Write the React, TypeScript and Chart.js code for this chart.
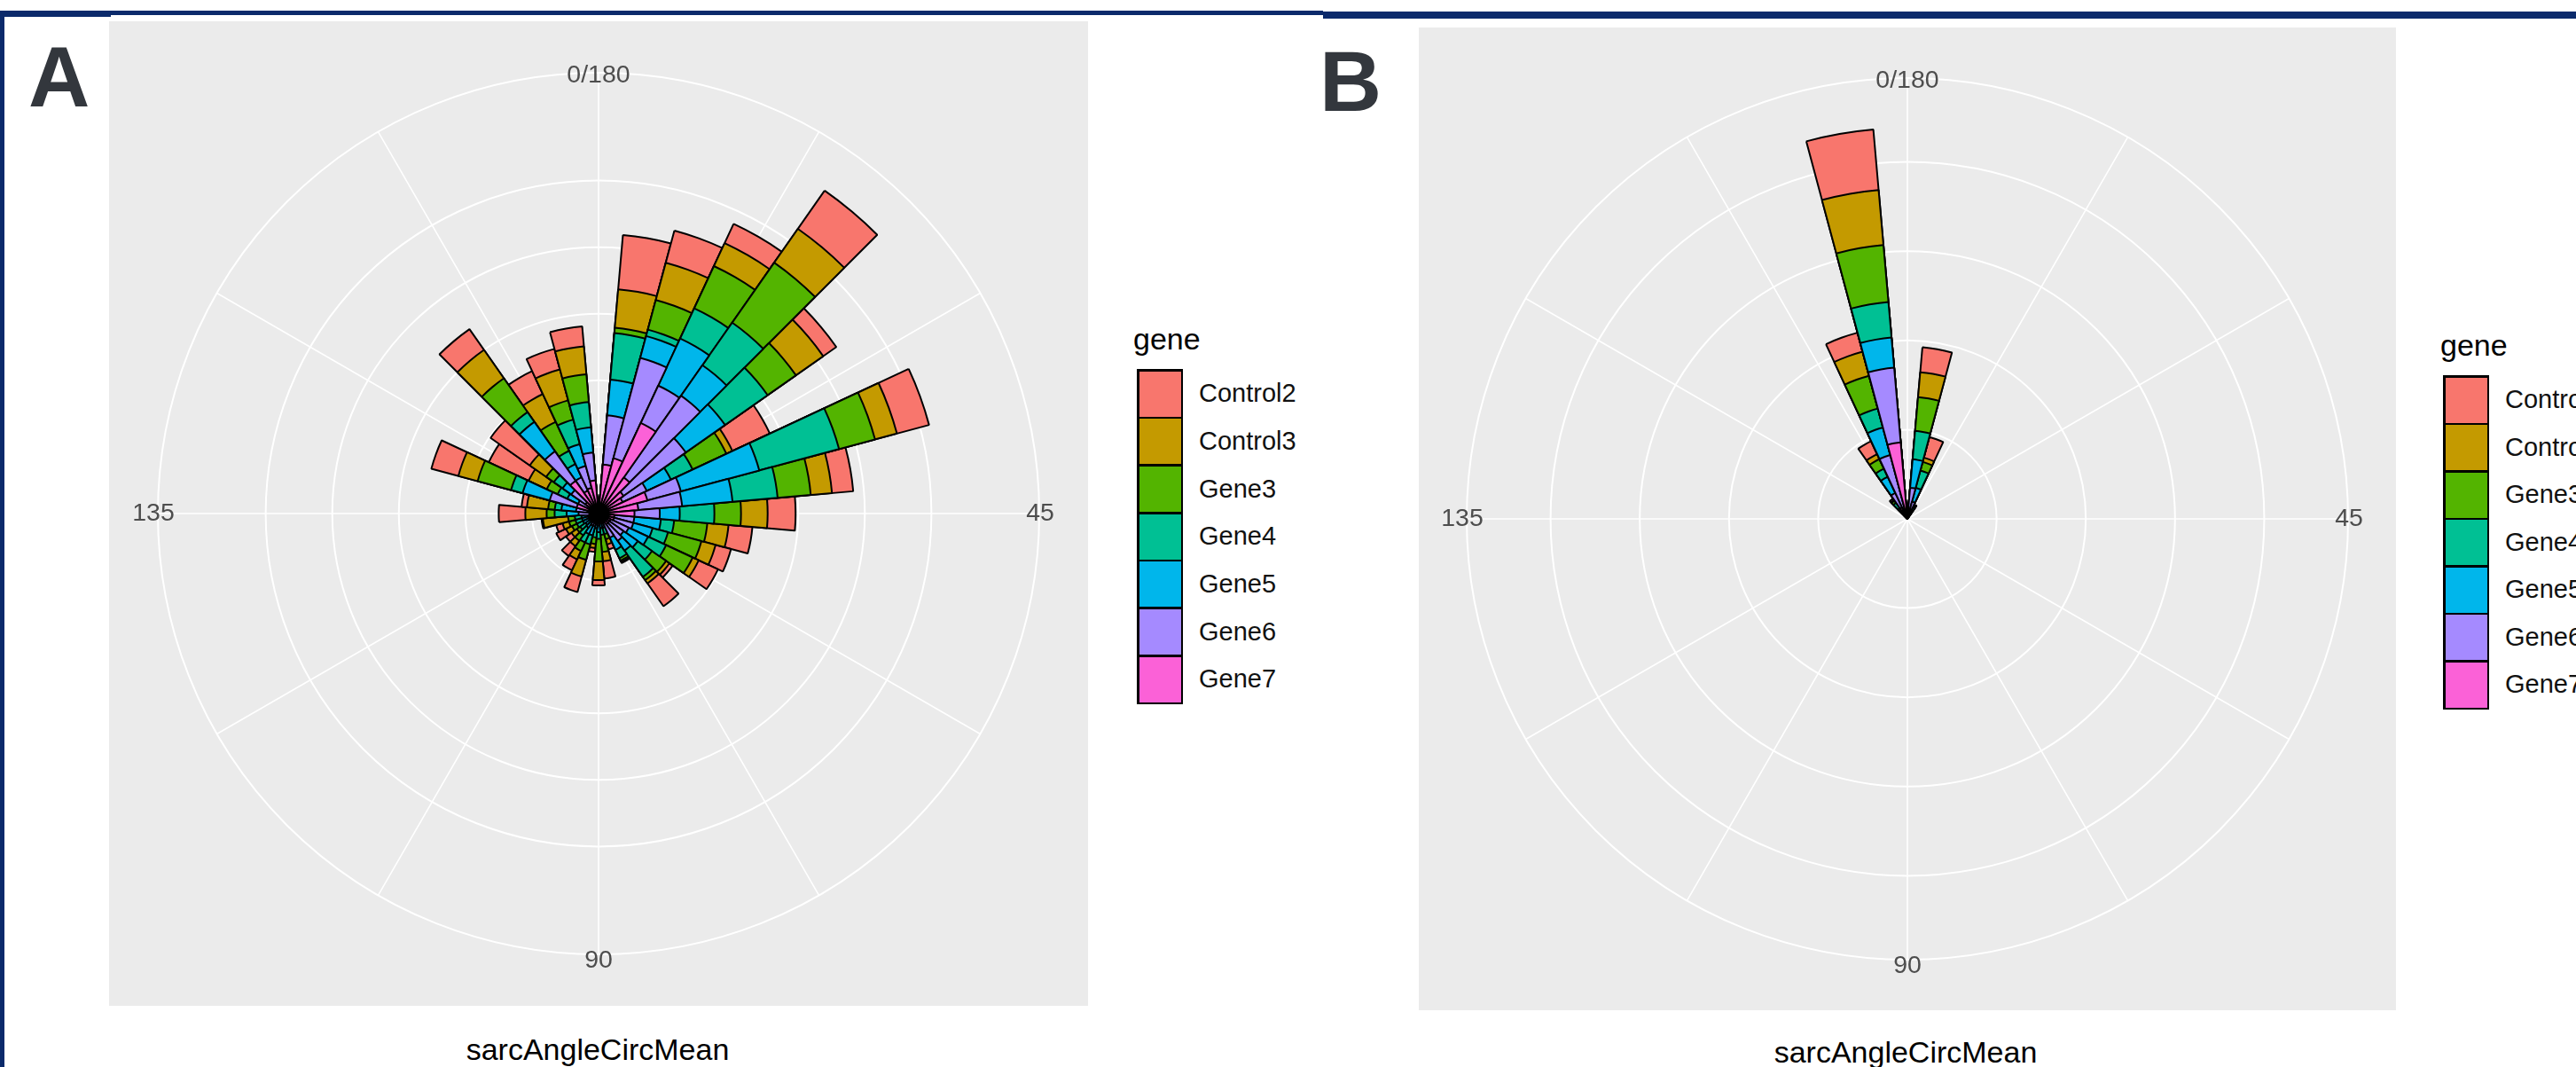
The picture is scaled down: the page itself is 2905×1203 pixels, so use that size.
import React, { useEffect, useRef } from 'react';
import { Chart, registerables } from 'chart.js';

Chart.register(...registerables);

// ---------- data ----------
const GENES = ['Control2', 'Control3', 'Gene3', 'Gene4', 'Gene5', 'Gene6', 'Gene7'];
const GENE_COLORS = ['#F8766D', '#C49A00', '#53B400', '#00C094', '#00B6EB', '#A58AFF', '#FB61D7'];

// sarcAngleCircMean bins (bin centres, degrees, 0..180 over the full circle)
const BINS = ['0', '5', '10', '15', '20', '25', '30', '35', '40', '45', '50', '55',
  '60', '65', '70', '75', '80', '85', '90', '95', '100', '105', '110', '115',
  '120', '125', '130', '135', '140', '145', '150', '155', '160', '165', '170', '175'];

// angular axis labels (bin index -> text) and spoke bins
const THETA_LABELS = [
  { bin: 0, text: '0/180' },
  { bin: 9, text: '45' },
  { bin: 18, text: '90' },
  { bin: 27, text: '135' },
];
const SPOKE_BINS = [0, 3, 6, 9, 12, 15, 18, 21, 24, 27, 30, 33];

// Panel A counts per gene, per bin
const A_CONTROL2 = [0, 4.1, 2.5, 1.6, 3.5, 1.2, 3.1, 2.5, 1.6, 2.1, 1.8, 1.2, 1.6, 0.3, 2.1, 0.1, 0.4, 1.3, 0.4, 0.3, 1.2, 0.9, 0.9, 0.5, 0.8, 0.5, 0.1, 2.0, 0.4, 2.1, 3.3, 3.6, 1.9, 1.9, 1.6, 1.5];
const A_CONTROL3 = [0, 2.9, 2.9, 1.9, 3.1, 2.5, 0.5, 1.7, 1.6, 2.0, 1.6, 1.1, 0.5, 0.3, 0.3, 0.1, 0.4, 0.7, 1.4, 0.3, 1.3, 0.7, 0.5, 0.5, 0.5, 0.5, 1.9, 1.6, 1.6, 1.5, 1.5, 1.5, 2.6, 2.3, 2.4, 2.1];
const A_GENE3 = [0, 0.4, 2.3, 3.5, 5.5, 2.6, 2.8, 2.8, 2.5, 2.0, 2.5, 2.6, 2.2, 1.3, 0.3, 0.2, 0.4, 1.3, 1.7, 0.5, 1.2, 0.7, 0.5, 0.3, 0.4, 0.5, 0.5, 0.6, 0.5, 2.6, 0.9, 0.7, 3.1, 2.4, 1.5, 2.1];
const A_GENE4 = [0, 3.5, 0.5, 2.5, 3.9, 3.9, 1.8, 6.2, 3.4, 2.6, 1.0, 1.2, 1.5, 1.3, 2.4, 0.7, 0.5, 0.5, 0.5, 0.7, 0.7, 0.7, 0.7, 0.5, 0.5, 0.5, 0.5, 0.9, 0.5, 0.9, 0.8, 0.8, 0.9, 1.1, 1.9, 1.9];
const A_GENE5 = [0, 2.7, 1.7, 3.9, 2.8, 3.6, 2.0, 6.1, 3.8, 1.5, 2.0, 1.5, 1.6, 1.3, 0.9, 1.0, 0.4, 0.5, 0.5, 0.5, 0.7, 0.7, 0.5, 0.5, 0.5, 0.5, 0.5, 0.9, 1.1, 2.1, 0.9, 0.8, 2.7, 1.1, 1.7, 1.9];
const A_GENE6 = [0, 3.7, 7.8, 3.1, 7.5, 5.7, 2.0, 2.6, 3.3, 1.9, 1.5, 1.5, 1.5, 1.3, 1.5, 1.2, 0.4, 0.3, 0.5, 0.3, 0.6, 0.6, 0.5, 0.4, 0.5, 0.5, 0.4, 0.8, 0.9, 2.1, 0.9, 1.3, 2.7, 1.1, 1.7, 2.1];
const A_GENE7 = [0, 3.7, 4.3, 7.5, 3.3, 2.3, 2.0, 3.8, 3.0, 2.7, 1.2, 1.2, 1.0, 1.0, 1.0, 0.8, 0.3, 0.3, 0.4, 0.3, 0.4, 0.4, 0.3, 0.3, 0.3, 0.3, 0.4, 0.7, 0.8, 1.7, 0.8, 1.2, 3.0, 1.9, 2.0, 2.5];

// Panel B counts per gene, per bin
const B_CONTROL2 = [0, 1.4, 1.2, 0.05, 0, 0, 0, 0, 0, 0, 0, 0, 0, 0, 0, 0, 0, 0, 0, 0, 0, 0, 0, 0, 0, 0, 0, 0, 0, 0, 0, 0, 0.1, 0.8, 1.1, 3.4];
const B_CONTROL3 = [0, 1.4, 0.25, 0.05, 0, 0, 0, 0, 0, 0, 0, 0, 0, 0, 0, 0, 0, 0, 0, 0, 0, 0, 0, 0, 0, 0, 0, 0, 0, 0, 0, 0, 0.05, 0.3, 1.4, 3.1];
const B_GENE3 = [0, 1.9, 0.5, 0.1, 0, 0, 0, 0, 0, 0, 0, 0, 0, 0, 0, 0, 0, 0, 0, 0, 0, 0, 0, 0, 0, 0, 0, 0, 0, 0, 0, 0, 0.15, 0.6, 1.9, 3.2];
const B_GENE4 = [0, 1.6, 1.0, 0.2, 0, 0, 0, 0, 0, 0, 0, 0, 0, 0, 0, 0, 0, 0, 0, 0, 0, 0, 0, 0, 0, 0, 0, 0, 0, 0, 0, 0, 0.35, 0.5, 1.1, 2.0];
const B_GENE5 = [0, 1.6, 0.8, 0.2, 0, 0, 0, 0, 0, 0, 0, 0, 0, 0, 0, 0, 0, 0, 0, 0, 0, 0, 0, 0, 0, 0, 0, 0, 0, 0, 0, 0, 0.25, 1.0, 1.6, 1.7];
const B_GENE6 = [0, 1.5, 0.6, 0.15, 0, 0, 0, 0, 0, 0, 0, 0, 0, 0, 0, 0, 0, 0, 0, 0, 0, 0, 0, 0, 0, 0, 0, 0, 0, 0, 0, 0, 0.25, 0.9, 3.2, 4.2];
const B_GENE7 = [0, 0.25, 0.4, 0.15, 0, 0, 0, 0, 0, 0, 0, 0, 0, 0, 0, 0, 0, 0, 0, 0, 0, 0, 0, 0, 0, 0, 0, 0, 0, 0, 0, 0, 0.25, 0.7, 0.5, 4.3];

// radial axis breaks and outer limit (outer ring) per panel
const A_TICKS = [0, 5, 10, 15, 20, 25];
const A_RMAX = 33.1;
const B_TICKS = [0, 5, 10, 15, 20];
const B_RMAX = 24.7;

const A_SERIES = [A_CONTROL2, A_CONTROL3, A_GENE3, A_GENE4, A_GENE5, A_GENE6, A_GENE7];
const B_SERIES = [B_CONTROL2, B_CONTROL3, B_GENE3, B_GENE4, B_GENE5, B_GENE6, B_GENE7];

// ---------- styling ----------
const FONT = '"Liberation Sans", Arial, Helvetica, sans-serif';
const FRAME = '#0b2a6b';
// radial nudge (px) of each theta label relative to the outer ring
const THETA_NUDGE = [-3.5, 1, 7, 5];

const roseDecor = {
  id: 'roseDecor',
  beforeDatasetsDraw(chart: any) {
    const s = chart.scales.r;
    const ctx = chart.ctx;
    const n = chart.data.labels.length;
    const half = Math.PI / n;
    const R = s.getDistanceFromCenterForValue(s.max);
    ctx.save();
    ctx.strokeStyle = '#FFFFFF';
    ctx.lineWidth = 1.6;
    SPOKE_BINS.forEach((i) => {
      const a = s.getIndexAngle(i) + half - Math.PI / 2;
      ctx.beginPath();
      ctx.moveTo(s.xCenter, s.yCenter);
      ctx.lineTo(s.xCenter + R * Math.cos(a), s.yCenter + R * Math.sin(a));
      ctx.stroke();
    });
    ctx.restore();
  },
  afterDatasetsDraw(chart: any) {
    const s = chart.scales.r;
    const ctx = chart.ctx;
    const n = chart.data.labels.length;
    const half = Math.PI / n;
    const R0 = s.getDistanceFromCenterForValue(s.max);
    ctx.save();
    ctx.fillStyle = '#4D4D4D';
    ctx.font = `28.5px ${FONT}`;
    ctx.textAlign = 'center';
    ctx.textBaseline = 'middle';
    THETA_LABELS.forEach((l, k) => {
      const a = s.getIndexAngle(l.bin) + half - Math.PI / 2;
      const R = R0 + THETA_NUDGE[k];
      ctx.fillText(l.text, s.xCenter + R * Math.cos(a), s.yCenter + R * Math.sin(a));
    });
    ctx.restore();
  },
};

type RoseProps = {
  series: number[][];
  rmax: number;
  ticks: number[];
  width: number;
  height: number;
  pad: { left: number; right: number; top: number; bottom: number };
};

function Rose({ series, rmax, ticks, width, height, pad }: RoseProps) {
  const ref = useRef<HTMLCanvasElement>(null);
  useEffect(() => {
    if (!ref.current) return;
    const datasets: any[] = [];
    // stacked: innermost (Gene7) drawn last on top, Control2 outermost
    for (let g = GENES.length - 1; g >= 0; g--) {
      const data = BINS.map((_, b) => {
        let sum = 0;
        for (let k = g; k < GENES.length; k++) sum += series[k][b];
        return sum;
      });
      datasets.push({
        label: GENES[g],
        data,
        backgroundColor: GENE_COLORS[g],
        borderColor: '#000000',
        borderWidth: 2,
      });
    }
    const chart = new Chart(ref.current, {
      type: 'polarArea',
      data: { labels: BINS, datasets },
      options: {
        responsive: false,
        maintainAspectRatio: false,
        animation: false,
        devicePixelRatio: 1,
        layout: { padding: pad },
        plugins: { legend: { display: false }, tooltip: { enabled: false }, title: { display: false } },
        scales: {
          r: {
            type: 'radialLinear',
            min: 0,
            max: rmax,
            startAngle: -5,
            ticks: { display: false, stepSize: 5 },
            grid: { display: true, circular: true, color: '#FFFFFF', lineWidth: 2 },
            angleLines: { display: false },
            pointLabels: { display: false },
            afterBuildTicks: (axis: any) => {
              axis.ticks = [...ticks, rmax].map((v) => ({ value: v }));
            },
          },
        },
      } as any,
      plugins: [roseDecor],
    });
    return () => chart.destroy();
  }, []);
  return <canvas ref={ref} width={width} height={height} style={{ display: 'block', width, height }} />;
}

function Legend({ titleLeft, titleTop, keyLeft, keyTop, pitch, labelLeft }: any) {
  const t = 2.5;
  const keyW = 52;
  return (
    <>
      <div style={{ position: 'absolute', left: titleLeft, top: titleTop, fontSize: 34, lineHeight: '34px', color: '#000', whiteSpace: 'nowrap' }}>gene</div>
      <div style={{ position: 'absolute', left: keyLeft, top: keyTop, width: keyW, height: GENES.length * pitch + t, background: '#000' }}>
        {GENES.map((g, i) => (
          <div key={g} style={{ position: 'absolute', left: t, top: i * pitch + t, width: keyW - 2 * t, height: pitch - t, background: GENE_COLORS[i] }} />
        ))}
      </div>
      {GENES.map((g, i) => (
        <div key={g} style={{ position: 'absolute', left: labelLeft, top: keyTop + t / 2 + i * pitch, height: pitch, lineHeight: `${pitch}px`, fontSize: 29, color: '#111', whiteSpace: 'nowrap' }}>{g}</div>
      ))}
    </>
  );
}

export default function App() {
  return (
    <div style={{ position: 'fixed', left: 0, top: 0, width: 2905, height: 1203, background: '#FFFFFF', overflow: 'hidden', fontFamily: FONT }}>
      {/* frame lines */}
      <div style={{ position: 'absolute', left: 0, top: 12, width: 1492, height: 5, background: FRAME }} />
      <div style={{ position: 'absolute', left: 0, top: 12, width: 125, height: 7, background: FRAME }} />
      <div style={{ position: 'absolute', left: 1492, top: 13, width: 1413, height: 8, background: FRAME }} />
      <div style={{ position: 'absolute', left: 0, top: 12, width: 5, height: 1191, background: FRAME }} />

      {/* panel letters */}
      <div style={{ position: 'absolute', left: 32, top: 39, fontSize: 96, lineHeight: '96px', fontWeight: 700, color: '#33373d' }}>A</div>
      <div style={{ position: 'absolute', left: 1488, top: 43, fontSize: 97, lineHeight: '97px', fontWeight: 700, color: '#33373d' }}>B</div>

      {/* Panel A */}
      <div style={{ position: 'absolute', left: 123, top: 24, width: 1104, height: 1110, background: '#EBEBEB' }}>
        <Rose series={A_SERIES} rmax={A_RMAX} ticks={A_TICKS} width={1104} height={1110}
          pad={{ left: 55, right: 55, top: 58, bottom: 58 }} />
      </div>
      <div style={{ position: 'absolute', left: 374, top: 1166, width: 600, textAlign: 'center', fontSize: 34, lineHeight: '34px', color: '#000', whiteSpace: 'nowrap' }}>sarcAngleCircMean</div>
      <Legend titleLeft={1278} titleTop={365} keyLeft={1282} keyTop={416} pitch={53.7} labelLeft={1352} />

      {/* Panel B */}
      <div style={{ position: 'absolute', left: 1600, top: 31, width: 1102, height: 1108, background: '#EBEBEB' }}>
        <Rose series={B_SERIES} rmax={B_RMAX} ticks={B_TICKS} width={1102} height={1108}
          pad={{ left: 54, right: 54, top: 57, bottom: 57 }} />
      </div>
      <div style={{ position: 'absolute', left: 1849, top: 1169, width: 600, textAlign: 'center', fontSize: 34, lineHeight: '34px', color: '#000', whiteSpace: 'nowrap' }}>sarcAngleCircMean</div>
      <Legend titleLeft={2752} titleTop={372} keyLeft={2755} keyTop={423} pitch={53.5} labelLeft={2825} />
    </div>
  );
}
